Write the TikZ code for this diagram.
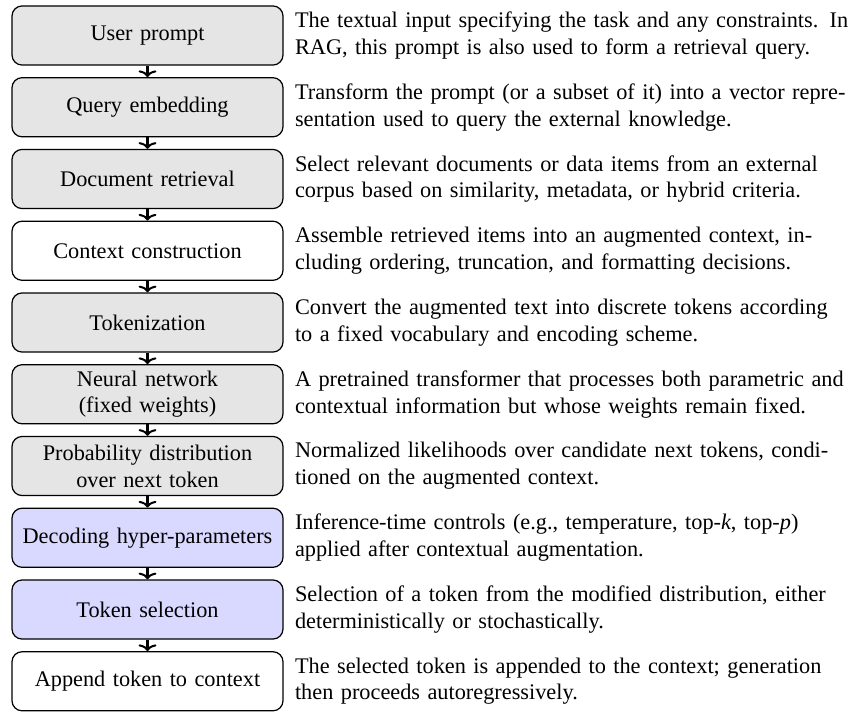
\documentclass[tikz,border=0pt]{standalone}
\usepackage{fontspec}
\setmainfont{Liberation Serif}
\usetikzlibrary{arrows.meta}
\definecolor{boxgray}{gray}{0.9}
\definecolor{boxblue}{RGB}{217,217,255}
\tikzset{
  stagebox/.style={draw=black, line width=0.55pt, rounded corners=4.5pt,
    minimum width=121.5pt, minimum height=26.5pt, text width=115pt,
    align=center, inner sep=2pt},
  grayfill/.style={stagebox, fill=boxgray},
  bluefill/.style={stagebox, fill=boxblue},
  whitefill/.style={stagebox, fill=white},
  desc/.style={anchor=west, text width=252pt, align=left, inner sep=3.33pt},
  flow/.style={line width=0.9pt, -{To[length=3pt,width=8pt]}}
}
\begin{document}
\begin{tikzpicture}[x=0.4484pt,y=-0.4484pt]
\useasboundingbox (0,0) rectangle (859,711);
\node[grayfill]  (b1)  at (147.5,35.5)  {User prompt};
\node[grayfill]  (b2)  at (147.5,107.25) {Query embedding};
\node[grayfill]  (b3)  at (147.5,179)   {Document retrieval};
\node[whitefill] (b4)  at (147.5,250.75) {Context construction};
\node[grayfill]  (b5)  at (147.5,322.5) {Tokenization};
\node[grayfill]  (b6)  at (147.5,394.25) {Neural network\\(fixed weights)};
\node[grayfill]  (b7)  at (147.5,466)   {Probability distribution\\over next token};
\node[bluefill]  (b8)  at (147.5,537.75) {Decoding hyper-parameters};
\node[bluefill]  (b9)  at (147.5,609.5) {Token selection};
\node[whitefill] (b10) at (147.5,681.25) {Append token to context};

\foreach \a/\b in {b1/b2,b2/b3,b3/b4,b4/b5,b5/b6,b6/b7,b7/b8,b8/b9,b9/b10}
  \draw[flow] (\a.south) -- (\b.north);

\node[desc] (d1) at ([xshift=1.6pt]b1.east) {The textual input specifying the task and any constraints. In\\RAG, this prompt is also used to form a retrieval query.};
\node[desc] (d2) at ([xshift=1.6pt]b2.east) {Transform the prompt (or a subset of it) into a vector repre-\\sentation used to query the external knowledge.};
\node[desc] (d3) at ([xshift=1.6pt]b3.east) {Select relevant documents or data items from an external\\corpus based on similarity, metadata, or hybrid criteria.};
\node[desc] (d4) at ([xshift=1.6pt]b4.east) {Assemble retrieved items into an augmented context, in-\\cluding ordering, truncation, and formatting decisions.};
\node[desc] (d5) at ([xshift=1.6pt]b5.east) {Convert the augmented text into discrete tokens according\\to a fixed vocabulary and encoding scheme.};
\node[desc] (d6) at ([xshift=1.6pt]b6.east) {A pretrained transformer that processes both parametric and\\contextual information but whose weights remain fixed.};
\node[desc] (d7) at ([xshift=1.6pt]b7.east) {Normalized likelihoods over candidate next tokens, condi-\\tioned on the augmented context.};
\node[desc] (d8) at ([xshift=1.6pt]b8.east) {Inference-time controls (e.g., temperature, top-\textit{k}, top-\textit{p})\\applied after contextual augmentation.};
\node[desc] (d9) at ([xshift=1.6pt]b9.east) {Selection of a token from the modified distribution, either\\deterministically or stochastically.};
\node[desc] (d10) at ([xshift=1.6pt]b10.east) {The selected token is appended to the context; generation\\then proceeds autoregressively.};
\end{tikzpicture}
\end{document}
